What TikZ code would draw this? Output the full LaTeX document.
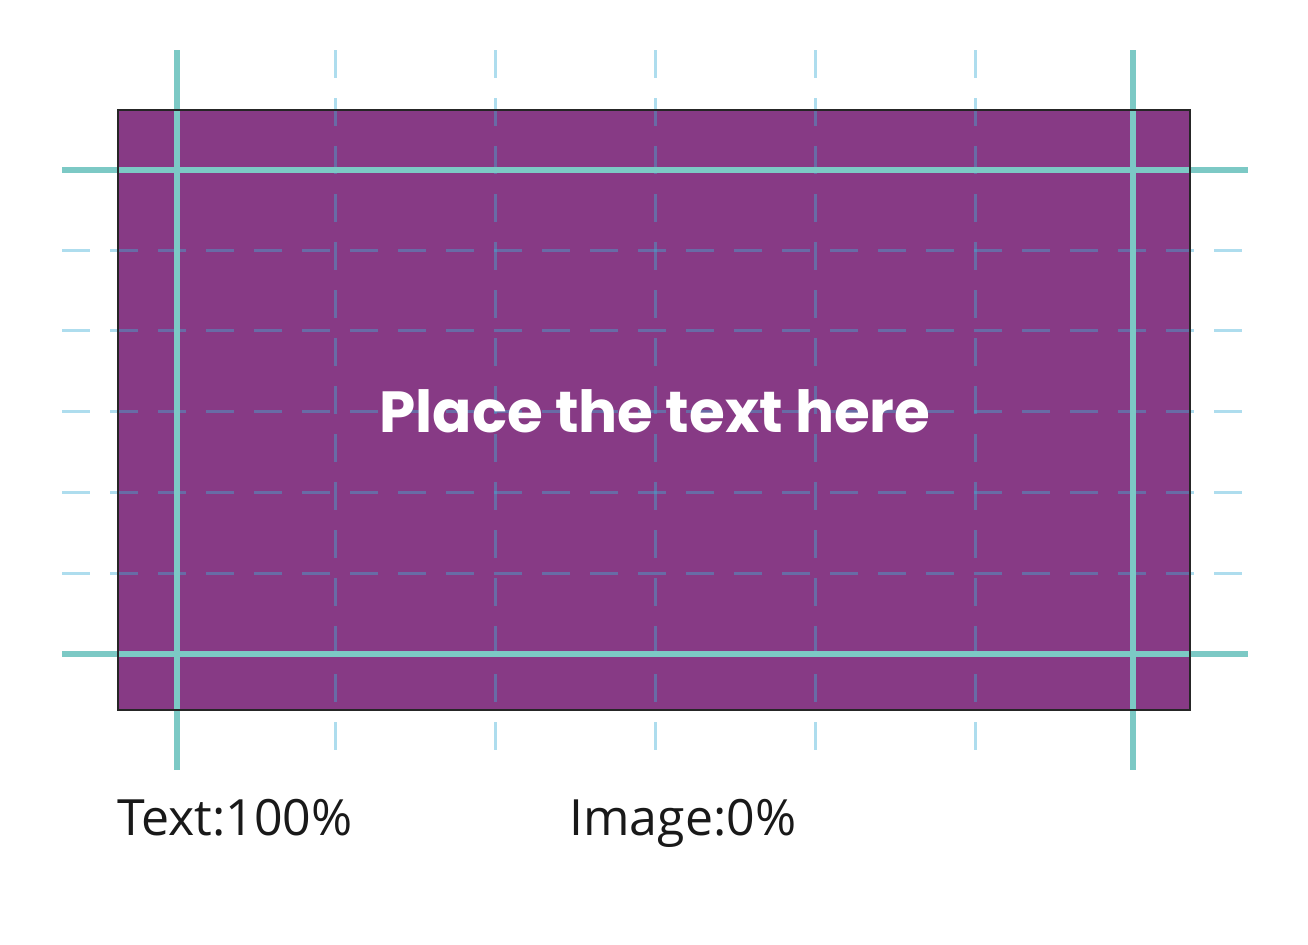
\documentclass[tikz,border=0pt]{standalone}
\usepackage{fontspec}
\setmainfont{Open Sans}
\newfontfamily\headfont{Poppins}
\definecolor{boxpurple}{HTML}{873A85}
\definecolor{guideteal}{HTML}{7CC9C5}
\definecolor{guideblue}{HTML}{3FAFD6}
\begin{document}
\begin{tikzpicture}[x=0.5pt,y=-0.5pt,
  solidguide/.style={draw=guideteal,line width=2.9pt},
  dashguide/.style={draw=guideblue,draw opacity=0.42,line width=1.5pt,dash pattern=on 14pt off 10pt},
  label/.style={anchor=base west,inner sep=0pt,font=\fontsize{25}{30}\selectfont,text=black!90}]
\useasboundingbox (0,0) rectangle (1308,944);
\fill[boxpurple] (118,110) rectangle (1190,710);
% dashed guides
\foreach \x in {335,495,655,815,975}
  \draw[dashguide] (\x,50) -- (\x,770);
\foreach \y in {250,330,411,492,573}
  \draw[dashguide] (62,\y) -- (1248,\y);
% solid guides
\foreach \x in {177,1133}
  \draw[solidguide] (\x,50) -- (\x,770);
\foreach \y in {170,654}
  \draw[solidguide] (62,\y) -- (1248,\y);
\draw[black!85,line width=0.9pt] (118,110) rectangle (1190,710);
\node[font=\headfont\bfseries\fontsize{29}{33}\selectfont,text=white,inner sep=0pt] (title) at (655,411) {Place the text here};
\node[label] (textlbl) at (117,835) {Text:100\%};
\node[label] (imglbl) at (569,835) {Image:0\%};
\end{tikzpicture}
\end{document}
